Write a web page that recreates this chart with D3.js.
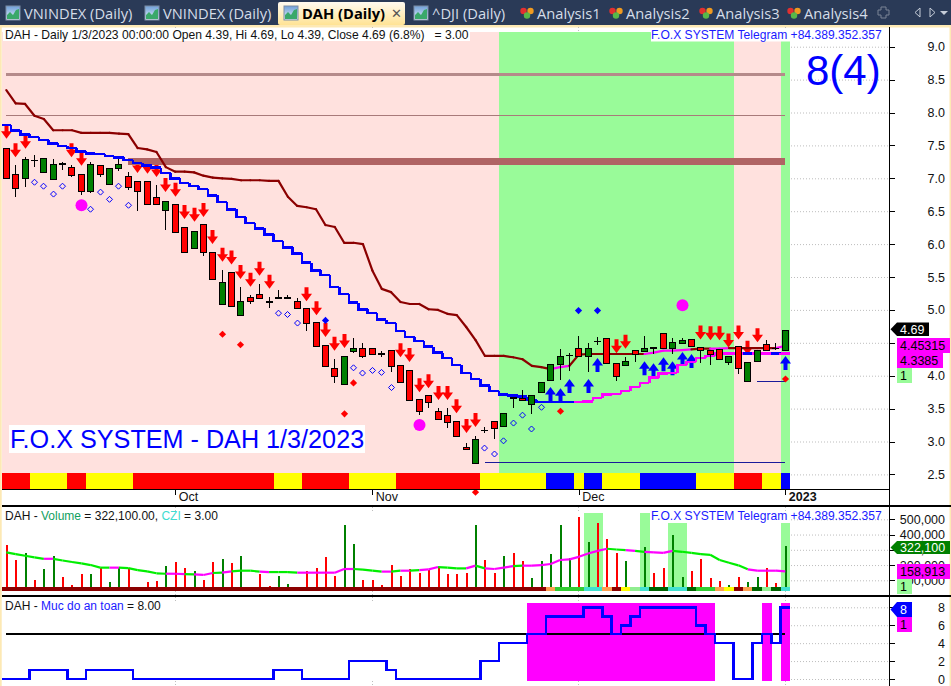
<!DOCTYPE html>
<html><head><meta charset="utf-8">
<script src="https://cdn.jsdelivr.net/npm/d3@7/dist/d3.min.js"></script>
<style>
html,body{margin:0;padding:0;background:#fff;overflow:hidden}
svg{display:block}
text{font-family:"Liberation Sans",Arial,sans-serif;white-space:pre}
.tab{font-family:"Open Sans",sans-serif;font-size:14.7px;fill:#d5dde8}
</style></head><body>
<script>
// ---------- data (one entry per daily bar) ----------
const open  = [7.46,7.06,7.00,7.27,7.10,6.99,7.22,7.17,7.06,6.81,7.20,6.91,7.15,7.04,6.96,6.96,6.72,6.52,6.61,6.26,5.94,6.30,5.88,5.09,5.58,4.92,5.20,5.24,5.12,5.18,5.18,5.13,5.03,4.82,4.47,4.12,3.87,4.38,4.42,4.42,4.33,4.39,4.16,4.08,3.64,3.71,3.46,3.41,3.31,2.91,2.67,3.17,3.31,3.23,3.66,3.66,3.57,3.75,3.93,4.18,4.31,4.42,4.30,4.52,4.58,4.20,4.16,4.39,4.38,4.42,4.65,4.42,4.49,4.56,4.43,4.39,4.40,4.21,4.45,3.92,4.22,4.48,4.41,4.39];
const high  = [7.46,7.20,7.32,7.35,7.31,7.29,7.25,7.20,7.06,7.25,7.20,7.15,7.29,7.10,6.96,6.96,6.90,6.65,6.61,6.26,6.20,6.30,5.88,5.61,5.58,5.35,5.23,5.39,5.20,5.30,5.22,5.18,5.03,4.82,4.47,4.25,4.30,4.57,4.50,4.42,4.38,4.39,4.16,4.08,3.64,3.71,3.51,3.51,3.31,2.98,3.08,3.22,3.31,3.43,3.66,3.78,3.71,3.90,4.18,4.41,4.35,4.60,4.50,4.59,4.58,4.20,4.28,4.39,4.60,4.42,4.65,4.57,4.57,4.56,4.43,4.39,4.40,4.30,4.45,4.21,4.39,4.54,4.50,4.69];
const low   = [7.00,6.72,6.87,7.17,7.10,6.99,7.12,7.02,6.75,6.77,7.02,6.91,7.11,6.82,6.50,6.61,6.61,6.21,6.18,5.88,5.94,5.82,5.47,5.09,5.06,4.92,5.09,5.17,5.03,5.18,5.16,5.03,4.68,4.45,4.15,3.89,3.87,4.35,4.27,4.33,4.28,4.05,3.90,3.63,3.40,3.51,3.34,3.20,3.08,2.88,2.67,3.13,3.04,3.23,3.51,3.63,3.42,3.75,3.93,3.93,4.07,4.30,4.05,4.47,4.20,3.92,4.16,4.21,4.38,4.33,4.42,4.33,4.49,4.45,4.19,4.16,4.25,4.16,4.02,3.92,4.22,4.39,4.39,4.39];
const close = [7.00,6.85,7.29,7.27,7.31,7.22,7.22,7.05,6.81,7.22,7.06,7.15,7.22,6.87,6.81,6.61,6.61,6.65,6.18,5.88,6.20,5.88,5.47,5.42,5.06,5.13,5.13,5.18,5.12,5.18,5.18,5.03,4.80,4.45,4.15,4.00,4.30,4.42,4.30,4.33,4.33,4.15,3.90,3.63,3.46,3.60,3.34,3.30,3.08,2.88,3.04,3.17,3.20,3.43,3.66,3.63,3.71,3.90,4.18,4.30,4.31,4.30,4.42,4.52,4.20,3.99,4.22,4.33,4.42,4.42,4.42,4.51,4.54,4.45,4.39,4.33,4.25,4.30,4.11,4.21,4.39,4.39,4.41,4.69];
const upperLine = [8.34,8.14,8.13,7.95,7.90,7.73,7.73,7.73,7.69,7.69,7.69,7.69,7.68,7.67,7.46,7.44,7.40,7.17,7.10,7.10,7.09,7.04,7.01,7.00,6.99,6.97,6.97,6.97,6.96,6.96,6.72,6.58,6.56,6.53,6.29,6.26,6.02,6.02,6.00,5.60,5.32,5.27,5.12,5.09,5.09,5.01,5.00,4.94,4.92,4.74,4.54,4.30,4.30,4.30,4.28,4.25,4.15,4.13,4.10,4.13,4.15,4.32,4.33,4.33,4.33,4.33,4.33,4.33,4.33,4.35,4.38,4.38,4.39,4.40,4.41,4.41,4.41,4.42,4.42,4.42,4.42,4.42,4.42,4.453];
const lowerLine = [7.81,7.73,7.67,7.63,7.58,7.53,7.49,7.46,7.41,7.38,7.37,7.34,7.32,7.28,7.23,7.19,7.16,7.08,7.00,6.93,6.88,6.84,6.74,6.64,6.53,6.41,6.32,6.24,6.15,6.05,5.95,5.86,5.72,5.60,5.53,5.35,5.24,5.11,5.01,4.95,4.85,4.80,4.68,4.59,4.53,4.44,4.35,4.27,4.16,4.04,3.95,3.85,3.77,3.71,3.70,3.68,3.63,3.60,3.60,3.60,3.60,3.60,3.61,3.66,3.71,3.72,3.77,3.83,3.89,3.97,4.03,4.04,4.16,4.21,4.27,4.30,4.34,4.34,4.34,4.34,4.34,4.34,4.34,4.3385];
const upperMagenta = [59,60,69,70,71,72,73,76,77,83];
const lowerBlue = [79,82];
const lowerMagentaFrom = 61;
const redArrows = [[0,7.60],[1,7.32],[2,7.45],[7,7.32],[8,7.19],[14,7.08],[15,7.07],[16,7.02],[17,6.79],[18,6.72],[19,6.38],[20,6.34],[21,6.41],[22,6.00],[23,5.73],[24,5.69],[25,5.47],[26,5.35],[27,5.52],[28,5.32],[32,5.13],[33,4.92],[34,4.59],[35,4.38],[36,4.42],[42,4.28],[43,4.21],[44,3.75],[45,3.81],[46,3.63],[47,3.63],[48,3.43],[49,3.13],[50,3.22],[65,4.34],[66,4.41],[74,4.55],[75,4.54],[76,4.54],[77,4.43],[78,4.55],[79,4.32],[80,4.51]];
const blueArrows = [[58,3.83],[59,3.81],[60,3.95],[62,3.95],[63,4.27],[68,4.22],[69,4.19],[70,4.28],[71,4.22],[72,4.36],[73,4.33],[83,4.30]];
const hollowDiamonds = [[3,6.94],[4,6.88],[5,6.76],[6,6.88],[9,6.53],[10,6.79],[11,6.68],[12,6.88],[13,6.59],[29,4.95],[30,4.93],[31,4.80],[37,4.12],[38,4.04],[39,4.08],[40,4.05],[41,3.82],[51,2.90],[52,2.81],[53,3.01],[54,3.28],[55,3.40],[56,3.19],[57,3.52]];
const redDots = [[23,4.63],[25,4.47],[36,3.42],[37,3.89],[59,3.46],[50,2.23],[83,3.95]];
const blueDots = [[34,4.84],[61,4.99],[63,4.99]];
const magentaCircles = [[8,6.59],[44,3.25],[72,5.07]];
const levelLines = [{v:8.58,from:0,to:83,w:3,c:"#b58a8a"},{v:7.96,from:0,to:83,w:1,c:"#a87a7a"},{v:7.25,from:13,to:83,w:7,c:"#b06464"},{v:2.68,from:51,to:83,w:1,c:"#1a1a9a"},{v:3.91,from:80,to:83,w:1,c:"#1a1a9a"}];
const phase = [..."PPPPPPPPPPPPPPPPPPPPPPPPPPPPPPPPPPPPPPPPPPPPPPPPPPPPPGGGGGGGGGGGGGGGGGGGGGGGGGPPPPPG"];
const strip = [..."RRRYYYYRRYYYYYRRRRRRRRRRRRRRRYYYRRRRRYYYYYRRRRRRRRRYYYYYYYBBBYBBYYYYBBBBBBYYYYRRRYYB"];
const volume = [330,233,280,102,174,259,122,70,141,141,183,89,178,178,52,89,96,193,220,180,161,102,220,239,213,259,43,141,63,128,76,57,161,180,252,128,461,337,102,102,70,200,128,174,148,167,187,141,141,148,461,233,148,259,278,226,115,226,272,461,246,513,350,474,370,278,226,57,317,148,180,396,122,161,239,115,96,70,122,89,122,180,83,322.1];
const volumeUp = [0,0,1,0,1,1,0,0,0,1,0,1,1,0,0,0,0,1,0,0,1,0,0,1,0,1,0,0,0,1,1,0,0,0,0,0,1,1,0,0,0,0,0,0,0,0,0,0,0,0,1,0,0,1,0,0,1,1,1,1,1,0,1,0,0,0,1,0,1,0,0,1,1,0,0,0,0,1,0,1,1,0,0,1];
const volumeAvg = [283,272,261,250,241,241,230,220,211,200,183,183,183,180,167,159,146,143,143,141,139,135,148,150,159,163,163,157,154,154,154,150,150,150,150,150,174,174,170,163,157,157,163,163,167,172,187,183,178,178,196,178,174,183,193,196,196,200,207,233,237,254,276,293,307,302,298,293,287,283,280,293,287,280,272,267,233,215,198,172,163,163,163,158.9];
const avgMagenta = [5,12,18,19,21,22,24,28,32,33,34,35,36,37,41,43,45,46,50,52,53,54,56,57,58,59,60,61,62,63,64,67,69,70,71,80,81,82,83];
const volHighlightTall = [62,63,68];
const volHighlightShort = [71,72,83];
const volStrip = ["#8b0000","#ffa050","#32cd32","#40e0d0","#ffff00","#90ee90","#006400"];
const volStripRuns=[[0,57,0],[58,58,1],[59,61,2],[62,63,3],[64,64,1],[65,65,0],[66,66,4],[67,67,5],[68,68,3],[69,70,6],[71,72,3],[73,73,6],[74,75,2],[76,76,1],[77,77,4],[78,78,0],[79,79,1],[80,80,6],[81,81,5],[82,82,6],[83,83,3]];
const safety = [0,0,0,1,1,1,1,0,0,1,1,1,1,1,0,0,0,0,0,0,0,0,0,0,0,0,0,0,0,1,1,1,0,0,0,0,0,2,2,2,2,1,0,0,0,0,0,0,0,0,0,2,2,4,4,4,5,5,7,7,7,7,8,8,7,5,6,7,8,8,8,8,8,8,6,5,4,4,0,0,4,5,4,8];
const safetyLevel = 5;
const priceTicks = [2.5,3,3.5,4,4.5,5,5.5,6,6.5,7,7.5,8,8.5,9];
const volumeTicks = [100,200,300,400,500];
const safetyTicks = [0,2,4,6,8];
const timeTicks = [[18,"Oct"],[39,"Nov"],[61,"Dec"],[83,"2023"]];
const tabs = [["VNINDEX (Daily)",24,"chart"],["VNINDEX (Daily)",163,"chart"],["^DJI (Daily)",432,"chart"],["Analysis1",537,"gem"],["Analysis2",626,"gem"],["Analysis3",716,"gem"],["Analysis4",804,"gem"]];

// ---------- scales ----------
const W=951,H=686;
const x=d3.scaleLinear().domain([0,83]).range([6.3,785.3]);
const step=x(1)-x(0);
const y=d3.scaleLinear().domain([2.5,9]).range([474.4,46.7]);
const yVol=d3.scaleLinear().domain([100,500]).range([580.3,519.3]);
const ySafe=d3.scaleLinear().domain([0,8]).range([679,607.3]);
const px=i=>Math.floor(x(i))+0.5;
const svg=d3.select("body").append("svg").attr("width",W).attr("height",H).attr("viewBox",`0 0 ${W} ${H}`);
const crisp=g=>g.attr("shape-rendering","crispEdges");

// ---------- window chrome ----------
svg.append("rect").attr("width",W).attr("height",H).attr("fill","#fff");
const defs=svg.append("defs");
const grad=defs.append("linearGradient").attr("id","act").attr("x2",0).attr("y2",1);
grad.append("stop").attr("offset",0).attr("stop-color","#fffaf0");
grad.append("stop").attr("offset",1).attr("stop-color","#ffe394");
const icoG=defs.append("linearGradient").attr("id","ico").attr("x2",0).attr("y2",1);
icoG.append("stop").attr("offset",0).attr("stop-color","#6f9fd8");
icoG.append("stop").attr("offset",1).attr("stop-color","#e8f2fb");
svg.append("rect").attr("width",W).attr("height",25).attr("fill","#2a3a57");
svg.append("rect").attr("y",25).attr("width",W).attr("height",2.5).attr("fill","#fde9b4");
svg.append("rect").attr("y",25).attr("width",1.7).attr("height",H).attr("fill","#fde9b4");
svg.append("rect").attr("x",949.5).attr("y",25).attr("width",2).attr("height",H).attr("fill","#fde9b4");
svg.append("rect").attr("x",278).attr("y",2).attr("width",127).attr("height",23).attr("rx",2).attr("fill","url(#act)");
function chartIcon(g,ix){
  g.append("rect").attr("x",ix).attr("y",6).attr("width",14).attr("height",14).attr("fill","url(#ico)").attr("stroke","#7c8ea6");
  g.append("path").attr("d",`M${ix+1} 19 L${ix+1} 15 L${ix+4} 12 L${ix+7} 15 L${ix+10} 10 L${ix+13} 9 L${ix+13} 19Z`).attr("fill","#3aa86a");
}
function gemIcon(g,ix){
  g.append("circle").attr("cx",ix+3.5).attr("cy",11).attr("r",3.2).attr("fill","#e23030");
  g.append("circle").attr("cx",ix+10.5).attr("cy",11).attr("r",3.2).attr("fill","#f09a20");
  g.append("circle").attr("cx",ix+7).attr("cy",15.5).attr("r",3.2).attr("fill","#58b848");
}
const tabG=svg.append("g");
tabs.forEach(([t,tx,k])=>{
  tabG.append("text").attr("class","tab").attr("x",tx).attr("y",18.5).text(t);
  if(k==="chart") chartIcon(tabG,tx-18); else gemIcon(tabG,tx-17);
});
chartIcon(tabG,284);
tabG.append("text").attr("x",302).attr("y",18.5).attr("font-size",14.7).attr("font-weight","bold").attr("fill","#000").style("font-family","'Open Sans',sans-serif").text("DAH (Daily)");
tabG.append("text").attr("x",391).attr("y",17.5).attr("font-size",13).attr("fill","#555").text("\u2715");
tabG.append("path").attr("d","M878 10h3v-3h5v3h3v5h-3v3h-5v-3h-3z").attr("fill","none").attr("stroke","#7a8496");
tabG.append("path").attr("d","M920 8l-5 4.5 5 4.5zM930 8l5 4.5-5 4.5z").attr("fill","none").attr("stroke","#c5ccd8");
tabG.append("path").attr("d","M940 11h8l-4 4z").attr("fill","#c5ccd8");

// ---------- grid (dotted, only visible outside the coloured area) ----------
const grid=svg.append("g").attr("stroke","#bdbdbd").attr("stroke-dasharray","1,2");
priceTicks.forEach(v=>grid.append("line").attr("x1",791).attr("x2",889).attr("y1",y(v)+.5).attr("y2",y(v)+.5));
volumeTicks.forEach(v=>grid.append("line").attr("x1",791).attr("x2",889).attr("y1",yVol(v)+.5).attr("y2",yVol(v)+.5));
safetyTicks.forEach(v=>grid.append("line").attr("x1",791).attr("x2",889).attr("y1",ySafe(v)+.5).attr("y2",ySafe(v)+.5));
timeTicks.forEach(([i])=>[[27,32],[507,513],[591,596],[597,603],[681,686]].forEach(([a,b])=>
  grid.append("line").attr("x1",px(i)).attr("x2",px(i)).attr("y1",a).attr("y2",b)));

// ---------- main pane ----------
const bgG=crisp(svg.append("g"));
phase.forEach((p,i)=>bgG.append("rect").attr("x",i?x(i)-step/2:2).attr("y",32)
  .attr("width",i?step+.5:x(0)+step/2-2).attr("height",441).attr("fill",p==="P"?"#ffe1de":"#99fb99"));
const stripColor={R:"#ff0000",Y:"#ffff00",B:"#0000ff"};
const stG=crisp(svg.append("g"));
strip.forEach((c,i)=>stG.append("rect").attr("x",i?x(i)-step/2:2).attr("y",473)
  .attr("width",i?step+.5:x(0)+step/2-2).attr("height",15.5).attr("fill",stripColor[c]));

const arrowDown=(cx,t)=>`M${cx} ${t}l-5.5 -7.5h3.5v-6.5h4v6.5h3.5z`;
const arrowUp=(cx,t)=>`M${cx} ${t}l-5.5 7.5h3.5v6.5h4v-6.5h3.5z`;
const arrG=svg.append("g");
redArrows.forEach(([i,v])=>arrG.append("path").attr("d",arrowDown(px(i),y(v))).attr("fill","#ff0000"));
blueArrows.forEach(([i,v])=>arrG.append("path").attr("d",arrowUp(px(i),y(v))).attr("fill","#0000ff"));

const lvG=crisp(svg.append("g"));
levelLines.forEach(l=>lvG.append("line").attr("x1",x(l.from)).attr("x2",x(l.to)).attr("y1",y(l.v)).attr("y2",y(l.v)).attr("stroke",l.c).attr("stroke-width",l.w));

const lineG=svg.append("g").attr("fill","none").attr("stroke-width",2.6);
const seg=d3.line().x(d=>d[0]).y(d=>d[1]);
lowerLine.forEach((v,i)=>{
  const col=i<lowerMagentaFrom||lowerBlue.includes(i)?"#0000ff":"#ff00ff";
  const xl=i?x(i)-step/2:2, xr=i===83?x(83)+step/2:x(i)+step/2;
  const pts=i?[[xl,y(lowerLine[i-1])],[xl,y(v)],[xr,y(v)]]:[[xl,y(v)],[xr,y(v)]];
  lineG.append("path").attr("d",seg(pts)).attr("stroke",col).attr("shape-rendering","crispEdges");
});
upperLine.forEach((v,i)=>{ if(!i) return;
  lineG.append("path").attr("d",seg([[x(i-1),y(upperLine[i-1])],[x(i),y(v)]]))
    .attr("stroke",upperMagenta.includes(i)?"#ff00ff":"#8b0000").attr("stroke-linecap","round").attr("stroke-width",2.2);
});

const cG=crisp(svg.append("g").attr("stroke","#000"));
open.forEach((o,i)=>{
  const c=close[i],cx=px(i);
  cG.append("line").attr("x1",cx).attr("x2",cx).attr("y1",y(high[i])).attr("y2",y(low[i]));
  if(o===c){cG.append("line").attr("x1",cx-3.5).attr("x2",cx+3.5).attr("y1",y(c)).attr("y2",y(c)).attr("stroke-width",1.4);return;}
  const top=Math.round(y(Math.max(o,c)))+.5, bot=Math.round(y(Math.min(o,c)))+.5;
  cG.append("rect").attr("x",cx-3).attr("width",6).attr("y",top).attr("height",Math.max(bot-top,1)).attr("fill",c>o?"#008000":"#ff0000");
});

const dia=(cx,cy,r)=>`M${cx} ${cy-r}L${cx+r} ${cy}L${cx} ${cy+r}L${cx-r} ${cy}Z`;
const mG=svg.append("g");
hollowDiamonds.forEach(([i,v])=>mG.append("path").attr("d",dia(px(i),y(v),3)).attr("fill","none").attr("stroke","#0000ff"));
redDots.forEach(([i,v])=>mG.append("path").attr("d",dia(px(i),y(v),3.6)).attr("fill","#ff0000"));
blueDots.forEach(([i,v])=>mG.append("path").attr("d",dia(px(i),y(v),3.6)).attr("fill","#0000ff"));
magentaCircles.forEach(([i,v])=>mG.append("circle").attr("cx",px(i)).attr("cy",y(v)).attr("r",6).attr("fill","#ff00ff"));

// ---------- volume pane ----------
const hG=crisp(svg.append("g").attr("fill","#99fb99"));
volHighlightTall.forEach(i=>hG.append("rect").attr("x",x(i)-step/2).attr("width",step+.5).attr("y",513).attr("height",78));
volHighlightShort.forEach(i=>hG.append("rect").attr("x",x(i)-step/2).attr("width",step+.5).attr("y",523).attr("height",68));
const vbG=crisp(svg.append("g"));
volume.forEach((v,i)=>vbG.append("rect").attr("x",Math.floor(x(i))).attr("width",2).attr("y",yVol(v)).attr("height",Math.max(590.5-yVol(v),0)).attr("fill",volumeUp[i]?"#008000":"#ff0000"));
const vsG=crisp(svg.append("g"));
volStripRuns.forEach(([a,b,c])=>vsG.append("rect").attr("x",a?x(a)-step/2:2).attr("y",587).attr("height",4)
  .attr("width",x(b)+step/2-(a?x(a)-step/2:2)).attr("fill",volStrip[c]));
const vlG=svg.append("g").attr("fill","none").attr("stroke-width",2.2);
volumeAvg.forEach((v,i)=>{ if(!i) return;
  vlG.append("path").attr("d",seg([[x(i-1),yVol(volumeAvg[i-1])],[x(i),yVol(v)]])).attr("stroke",avgMagenta.includes(i)?"#ff00ff":"#00ee00");
});

// ---------- safety pane ----------
const sG=crisp(svg.append("g").attr("fill","#ff00ff"));
safety.forEach((s,i)=>{ if(s>=safetyLevel) sG.append("rect").attr("x",x(i)-step/2).attr("width",step+.5).attr("y",603).attr("height",78);});
crisp(svg.append("line")).attr("x1",x(0)).attr("x2",x(83)).attr("y1",ySafe(safetyLevel)).attr("y2",ySafe(safetyLevel)).attr("stroke","#000").attr("stroke-width",2);
const safePts=safety.flatMap((s,i)=>[[i?x(i)-step/2:2,ySafe(s)],[i===83?x(83)+step/2:x(i)+step/2,ySafe(s)]]);
svg.append("path").attr("d",seg(safePts)).attr("fill","none").attr("stroke","#0000ff").attr("stroke-width",2.6).attr("shape-rendering","crispEdges");

// ---------- pane frames, axes ----------
const fr=crisp(svg.append("g").attr("stroke","#000").attr("stroke-width",1.3));
[[2,889,489.5,489.5],[2,951,506,506],[2,951,596,596],[889.5,889.5,27,686]].forEach(([a,b,c,d])=>fr.append("line").attr("x1",a).attr("x2",b).attr("y1",c).attr("y2",d));

const styleAxis=g=>{g.select(".domain").remove();g.selectAll("line").attr("stroke","#000").attr("shape-rendering","crispEdges");
  g.selectAll("text").attr("font-size",12.5).attr("fill","#111").attr("text-anchor","end").attr("x",55.5);};
svg.append("g").attr("transform","translate(889.5,0)").call(d3.axisRight(y).tickValues(priceTicks).tickSize(5).tickFormat(d3.format(".1f"))).call(styleAxis);
svg.append("g").attr("transform","translate(889.5,0)").call(d3.axisRight(yVol).tickValues(volumeTicks).tickSize(5).tickFormat(d=>d3.format(",")(d*1000))).call(styleAxis);
svg.append("g").attr("transform","translate(889.5,0)").call(d3.axisRight(ySafe).tickValues(safetyTicks).tickSize(5).tickFormat(d3.format("d"))).call(styleAxis);
const xa=svg.append("g").attr("transform","translate(0,489.5)").call(d3.axisBottom(x).tickValues(timeTicks.map(d=>d[0])).tickSize(5).tickFormat(i=>timeTicks.find(d=>d[0]===i)[1]));
xa.select(".domain").remove();
xa.selectAll("line").attr("stroke","#000").attr("shape-rendering","crispEdges");
xa.selectAll("text").attr("text-anchor","start").attr("x",3).attr("y",2.5).attr("dy",".71em").attr("font-size",12.5).attr("fill","#111")
  .attr("font-weight",d=>d===83?"bold":"normal");

// ---------- labels ----------
function box(x0,y0,w,h){
  svg.append("rect").attr("x",x0).attr("y",y0).attr("width",w).attr("height",h).attr("fill","#fff");
}
box(3,28,467,13);
svg.append("text").attr("x",5).attr("y",38.5).attr("font-size",12.1).attr("fill","#111").text("DAH - Daily 1/3/2023 00:00:00 Open 4.39, Hi 4.69, Lo 4.39, Close 4.69 (6.8%)   = 3.00");
box(651,29,231,12.5);
svg.append("text").attr("x",651).attr("y",38.5).attr("font-size",12.1).attr("fill","#1a1aff").text("F.O.X SYSTEM Telegram +84.389.352.357");
svg.append("text").attr("x",806).attr("y",85).attr("font-size",42).attr("fill","#0000ff").text("8(4)");
box(9,425,356,28);
svg.append("text").attr("x",10).attr("y",448).attr("font-size",25.2).attr("fill","#0000ff").text("F.O.X SYSTEM - DAH 1/3/2023");

const v=svg.append("text").attr("x",5).attr("y",520).attr("font-size",12).attr("fill","#111");
v.append("tspan").text("DAH - ");v.append("tspan").attr("fill","#10a060").text("Volume");v.append("tspan").text(" = 322,100.00, ");
v.append("tspan").attr("fill","#40dcd0").text("CZI");v.append("tspan").text(" = 3.00");
svg.append("text").attr("x",651).attr("y",520).attr("font-size",12.1).attr("fill","#1a1aff").text("F.O.X SYSTEM Telegram +84.389.352.357");
const s=svg.append("text").attr("x",5).attr("y",610).attr("font-size",12).attr("fill","#111");
s.append("tspan").text("DAH - ");s.append("tspan").attr("fill","#1a1aff").text("Muc do an toan");s.append("tspan").text(" = 8.00");

// ---------- value flags ----------
function flag(t,x0,y0,w,h,bg,fg,pointer){
  if(pointer) svg.append("path").attr("d",`M${x0-6.5} ${y0+h/2}L${x0} ${y0}H${x0+w}V${y0+h}H${x0}Z`).attr("fill",bg);
  else svg.append("rect").attr("x",x0).attr("y",y0).attr("width",w).attr("height",h).attr("fill",bg);
  svg.append("text").attr("x",x0+3).attr("y",y0+h/2+4.5).attr("font-size",12.5).attr("fill",fg).text(t);
}
flag("4.69",897,322.5,32,13.5,"#000","#fff",true);
flag("4.45315",897,338,53,15,"#ff00ff","#000");
flag("4.3385",897,353,46,15,"#ff00ff","#000");
flag("1",897,368,15,15,"#99fb99","#000");
flag("322,100",897,541,53,13,"#008000","#fff",true);
flag("158,913",897,564,53,15,"#ff00ff","#000");
flag("1",897,579,15,15,"#99fb99","#000");
flag("8",897,602,15,15,"#0000ff","#fff",true);
flag("1",897,617,15,15,"#ff00ff","#000");
</script>
</body></html>
